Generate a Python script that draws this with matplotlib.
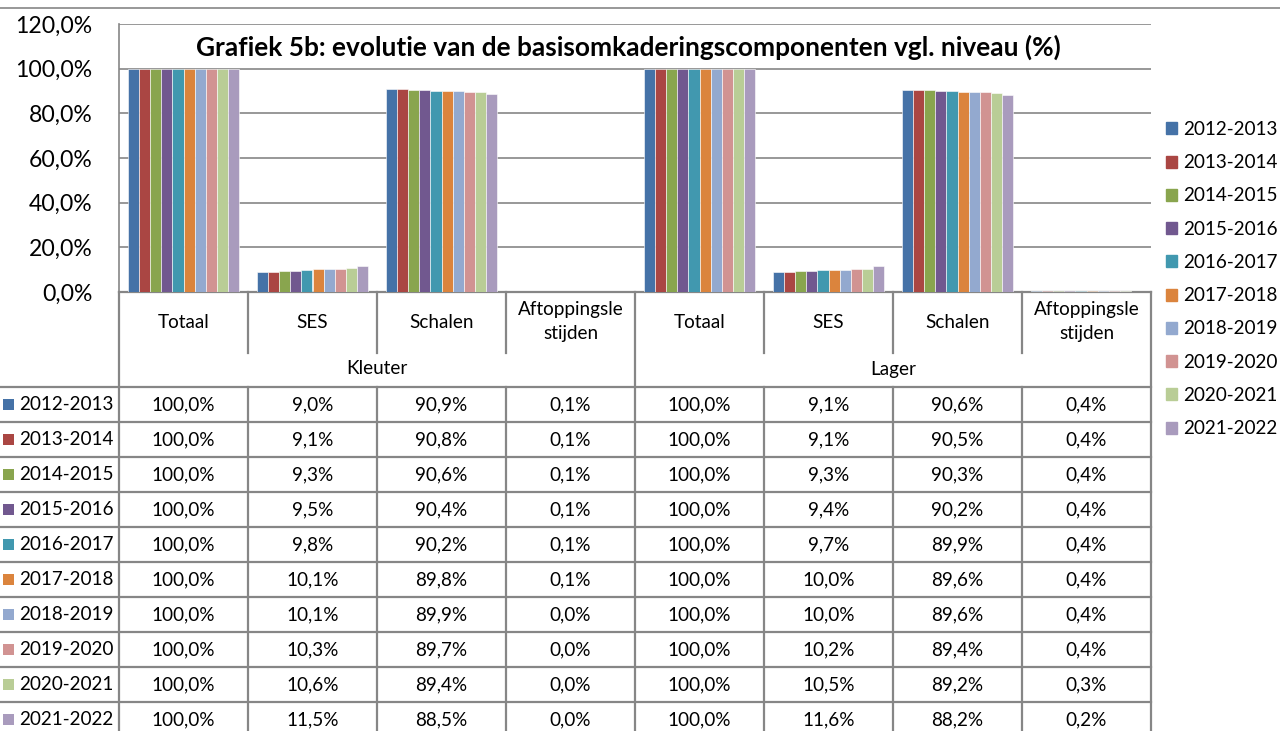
import matplotlib
matplotlib.use("Agg")
import matplotlib.pyplot as plt
from matplotlib.patches import Rectangle
import numpy as np

plt.rcParams['font.family'] = ['Lato', 'DejaVu Sans']

title = "Grafiek 5b: evolutie van de basisomkaderingscomponenten vgl. niveau (%)"
years = ["2012-2013", "2013-2014", "2014-2015", "2015-2016", "2016-2017",
         "2017-2018", "2018-2019", "2019-2020", "2020-2021", "2021-2022"]
components = ["Totaal", "SES", "Schalen", "Aftoppingsle\nstijden"]
levels = ["Kleuter", "Lager"]

kleuter_totaal = [100.0] * 10
kleuter_ses = [9.0, 9.1, 9.3, 9.5, 9.8, 10.1, 10.1, 10.3, 10.6, 11.5]
kleuter_schalen = [90.9, 90.8, 90.6, 90.4, 90.2, 89.8, 89.9, 89.7, 89.4, 88.5]
kleuter_aftop = [0.1, 0.1, 0.1, 0.1, 0.1, 0.1, 0.0, 0.0, 0.0, 0.0]
lager_totaal = [100.0] * 10
lager_ses = [9.1, 9.1, 9.3, 9.4, 9.7, 10.0, 10.0, 10.2, 10.5, 11.6]
lager_schalen = [90.6, 90.5, 90.3, 90.2, 89.9, 89.6, 89.6, 89.4, 89.2, 88.2]
lager_aftop = [0.4, 0.4, 0.4, 0.4, 0.4, 0.4, 0.4, 0.4, 0.3, 0.2]

colors = ["#4572A7", "#AA4643", "#89A54E", "#71588F", "#4198AF",
          "#DB843D", "#93A9CF", "#D19392", "#B9CD96", "#A99BBD"]

columns = [kleuter_totaal, kleuter_ses, kleuter_schalen, kleuter_aftop,
           lager_totaal, lager_ses, lager_schalen, lager_aftop]
data = np.array(columns).T  # rows = years, cols = categories

W, H = 1280, 731
fig = plt.figure(figsize=(W / 100, H / 100), dpi=100)

GRID = "#868686"
L, R, T, B = 119, 1151, 24, 292
ncat = len(columns)
colw = (R - L) / ncat

# overlay for table in pixel coordinates
ov = fig.add_axes([0, 0, 1, 1], zorder=0)
ov.set_xlim(0, W)
ov.set_ylim(H, 0)
ov.axis('off')

ax = fig.add_axes([L / W, 1 - B / H, (R - L) / W, (B - T) / H], zorder=1)
ax.patch.set_alpha(0)
ax.set_xlim(0, ncat)
ax.set_ylim(0, 120)
ax.set_yticks(np.arange(0, 121, 20))
ax.set_yticklabels([f"{v:.1f}%".replace('.', ',') for v in np.arange(0, 121, 20)], fontsize=16.6)
ax.tick_params(axis='y', length=0, pad=19)
ax.tick_params(axis='x', length=0, labelbottom=False)
ax.set_xticks([])
ax.grid(axis='y', color=GRID, lw=1.2)
ax.set_axisbelow(True)
for s in ['right', 'bottom', 'top']:
    ax.spines[s].set_visible(False)
ax.spines['left'].set_color(GRID)
ax.spines['left'].set_linewidth(1.2)

nser = len(years)
group = 0.868
bw = group / nser
x = np.arange(ncat) + 0.5
for j in range(nser):
    ax.bar(x + (j - (nser - 1) / 2) * bw, data[j], width=bw, color=colors[j],
           edgecolor='white', linewidth=0.4, zorder=2)

ax.text(0.494, 0.914, title, transform=ax.transAxes, ha='center', va='center',
        fontsize=18.9, fontweight='bold', color='black',
        bbox=dict(facecolor='white', edgecolor='none', pad=2), zorder=3)

# top border line of chart area
ov.plot([0, W], [7.5, 7.5], color=GRID, lw=1.2)

# table
lw = 1.6
hdr_bottom = 353
row0 = 387
rowh = 35
ov.plot([L, R], [B, B], color=GRID, lw=lw)
for i in range(nser):
    yl = row0 + rowh * i
    ov.plot([0, R], [yl, yl], color=GRID, lw=lw)
for k in range(ncat + 1):
    xx = L + colw * k
    if k in (0, 4, 8):
        ov.plot([xx, xx], [B, H], color=GRID, lw=lw)
    else:
        ov.plot([xx, xx], [B, hdr_bottom], color=GRID, lw=lw)
        ov.plot([xx, xx], [row0, H], color=GRID, lw=lw)

FS = 13.6
for k in range(ncat):
    cx = L + colw * (k + 0.5)
    ov.text(cx, 322, components[k % 4], ha='center', va='center', fontsize=FS,
            linespacing=1.5)
for m, lev in enumerate(levels):
    cx = L + colw * 4 * (m + 0.5)
    ov.text(cx, 369, lev, ha='center', va='center', fontsize=FS)

for i in range(nser):
    cy = row0 + rowh * i + rowh / 2
    ov.add_patch(Rectangle((3, cy - 5.5), 11, 11, color=colors[i], lw=0))
    ov.text(19, cy, years[i], ha='left', va='center', fontsize=FS)
    for k in range(ncat):
        cx = L + colw * (k + 0.5)
        ov.text(cx, cy, f"{data[i][k]:.1f}%".replace('.', ','), ha='center',
                va='center', fontsize=FS)

handles = [Rectangle((0, 0), 1, 1, color=c) for c in colors]
fig.legend(handles, years, loc='upper left',
           bbox_to_anchor=(1166 / W, 1 - 121 / H), frameon=False, fontsize=FS,
           handlelength=0.6, handleheight=0.6, handletextpad=0.3,
           labelspacing=0.86, borderpad=0, borderaxespad=0)

fig.savefig("out.png", dpi=100)
